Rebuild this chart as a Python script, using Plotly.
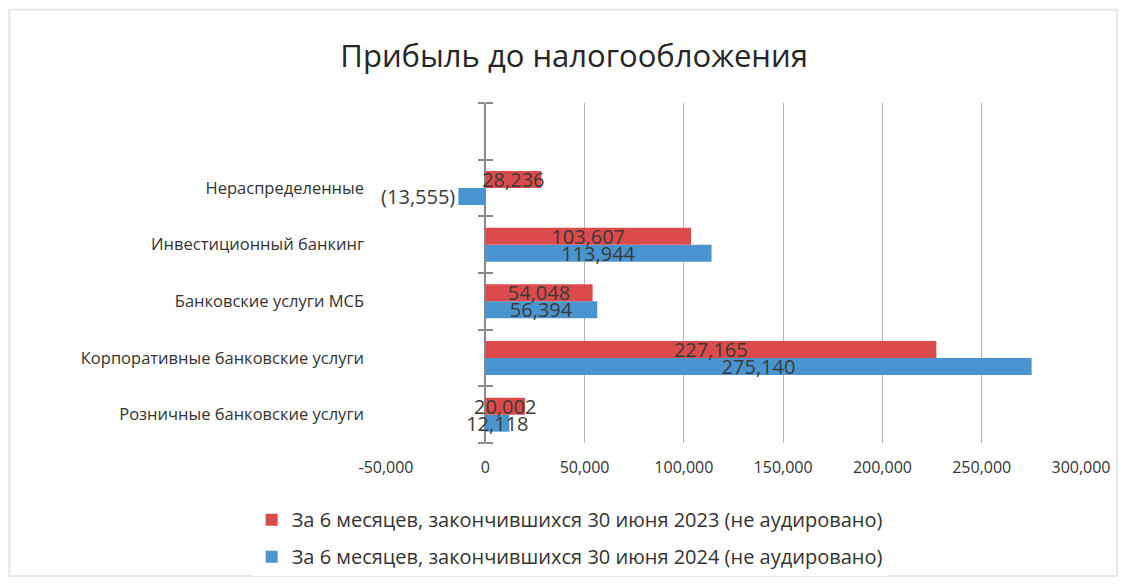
import plotly.graph_objects as go

categories = ["Розничные банковские услуги", "Корпоративные банковские услуги",
              "Банковские услуги МСБ", "Инвестиционный банкинг", "Нераспределенные", " "]
values_2023 = [20002, 227165, 54048, 103607, 28236, None]
values_2024 = [12118, 275140, 56394, 113944, -13555, None]
name_2023 = "За 6 месяцев, закончившихся 30 июня 2023 (не аудировано)"
name_2024 = "За 6 месяцев, закончившихся 30 июня 2024 (не аудировано)"
tick_vals = [-50000, 0, 50000, 100000, 150000, 200000, 250000, 300000]
tick_text = ["-50,000", "0", "50,000", "100,000", "150,000", "200,000", "250,000", "300,000"]

def fmt(v):
    if v is None:
        return ""
    return f"({abs(v):,})" if v < 0 else f"{v:,}"

def pos(v):
    return "outside" if (v is not None and v < 0) else "inside"

FONT = "Open Sans"
RED = "#dc4b4b"
BLUE = "#4a95d0"
LBL = dict(family=FONT, size=20, color="#3a3a3a")

fig = go.Figure()
fig.add_trace(go.Bar(
    y=categories, x=values_2024, orientation="h", name=name_2024,
    marker=dict(color=BLUE, line=dict(width=0)),
    text=[fmt(v) for v in values_2024], textposition=[pos(v) for v in values_2024],
    insidetextanchor="middle", constraintext="none", cliponaxis=False,
    textfont=LBL, insidetextfont=LBL, outsidetextfont=LBL,
    legendrank=2, legendgroup="b",
))
fig.add_trace(go.Bar(
    y=categories, x=values_2023, orientation="h", name=name_2023,
    marker=dict(color=RED, line=dict(width=0)),
    text=[fmt(v) for v in values_2023], textposition=[pos(v) for v in values_2023],
    insidetextanchor="middle", constraintext="none", cliponaxis=False,
    textfont=LBL, insidetextfont=LBL, outsidetextfont=LBL,
    legendrank=1, legendgroup="a",
))
# invisible traces to carry the crossing tick marks on the zero axis
for ax in ["y2", "y3"]:
    fig.add_trace(go.Bar(y=categories, x=[None]*len(categories), orientation="h",
                         yaxis=ax, showlegend=False, hoverinfo="skip"))

fig.update_layout(
    width=1110, height=569,
    paper_bgcolor="white", plot_bgcolor="white",
    margin=dict(l=378, r=37, t=95, b=134, autoexpand=False),
    barmode="group", bargap=0.4, bargroupgap=0,
    title=dict(text="Прибыль до налогообложения", x=0.51, xanchor="center",
               y=0.915, yanchor="middle",
               font=dict(family=FONT, size=31, color="#262626")),
    font=dict(family=FONT, color="#333333"),
    xaxis=dict(range=[-50000, 300000], tickvals=tick_vals, ticktext=tick_text,
               showgrid=True, gridcolor="#b4b4b4", gridwidth=1.3,
               zeroline=True, zerolinecolor="#8a8a8a", zerolinewidth=1.5,
               showline=False, ticks="", ticklabelstandoff=13,
               tickfont=dict(family=FONT, size=16, color="#333333")),
    yaxis=dict(type="category", categoryorder="array", categoryarray=categories,
               showgrid=False, zeroline=False, showline=False, ticks="",
               ticklabelstandoff=21,
               tickfont=dict(family=FONT, size=16.5, color="#333333")),
    yaxis2=dict(type="category", categoryorder="array", categoryarray=categories,
                overlaying="y", anchor="free", position=1/7, side="left",
                showticklabels=False, showgrid=False, zeroline=False,
                showline=False, ticks="outside", tickson="boundaries",
                ticklen=7, tickcolor="#8a8a8a", tickwidth=1.5),
    yaxis3=dict(type="category", categoryorder="array", categoryarray=categories,
                overlaying="y", anchor="free", position=1/7, side="right",
                showticklabels=False, showgrid=False, zeroline=False,
                showline=False, ticks="outside", tickson="boundaries",
                ticklen=7, tickcolor="#8a8a8a", tickwidth=1.5),
    legend=dict(orientation="v", xref="container", x=0.506, xanchor="center",
                yref="container", y=0.135, yanchor="top",
                font=dict(family=FONT, size=20, color="#333333"),
                itemwidth=30, tracegroupgap=8, itemsizing="constant"),
    shapes=[dict(type="rect", xref="paper", yref="paper", x0=-0.542, x1=1.052,
                 y0=-0.391, y1=1.274, line=dict(color="#e6e6e6", width=2))],
    showlegend=True,
)

fig.write_html("out.html")
